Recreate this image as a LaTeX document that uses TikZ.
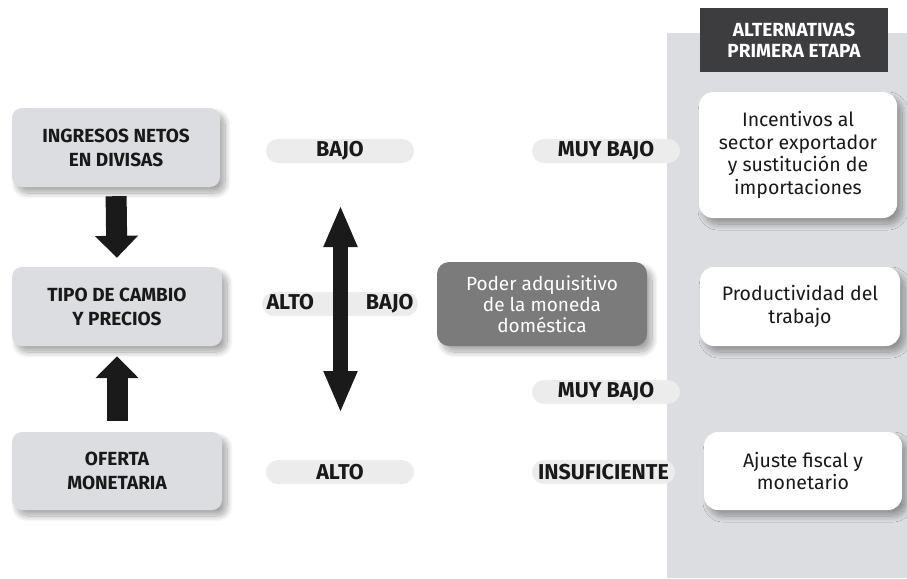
\documentclass[tikz,border=0pt]{standalone}
\usepackage{fontspec}
\setmainfont{Fira Sans}
\usetikzlibrary{arrows.meta, shadows.blur}

\definecolor{boxgray}{HTML}{DCDDE0}
\definecolor{pillgray}{HTML}{ECECEC}
\definecolor{headgray}{HTML}{3D3D3F}
\definecolor{podergray}{HTML}{7B7B7B}
\definecolor{arrowblack}{HTML}{1A1A1A}

\tikzset{
  soft/.style={blur shadow={shadow xshift=5pt, shadow yshift=-6pt, shadow blur steps=14, shadow blur radius=6pt, shadow opacity=35}},
  causa/.style={soft, fill=boxgray, rounded corners=10pt, align=center,
    font=\bfseries\fontsize{19}{24}\selectfont, text=black!90},
  nivel/.style={fill=pillgray, rounded corners=12pt, minimum height=24pt, inner sep=0pt,
    font=\bfseries\fontsize{21.5}{24}\selectfont, text=black!90},
  alterna/.style={soft, fill=white, rounded corners=14pt, align=center,
    font=\fontsize{19.5}{22.5}\selectfont, text=black!90},
  bloque/.style={arrowblack, line width=21pt, -{Triangle[width=42pt, length=22pt]}},
}

\begin{document}
\begin{tikzpicture}[x=1pt, y=-1pt]

\useasboundingbox (0,0) rectangle (907,578);

% panel de alternativas
\fill[boxgray] (667,33) rectangle (907,578);
\node[fill=headgray, text=white, minimum width=188pt, minimum height=64pt, align=center,
  font=\bfseries\fontsize{19}{21}\selectfont] (head) at (794,40) {ALTERNATIVAS\\PRIMERA ETAPA};

%% columna izquierda
\node[causa, minimum width=208pt, minimum height=79pt] (ing) at (116,147.5) {INGRESOS NETOS\\EN DIVISAS};
\node[causa, minimum width=210pt, minimum height=79pt] (tipo) at (117,306.5) {TIPO DE CAMBIO\\Y PRECIOS};
\node[causa, minimum width=210pt, minimum height=78pt] (ofe) at (117,471) {OFERTA\\MONETARIA};

\draw[bloque, shorten <=9pt, shorten >=9pt] (ing.south) -- (tipo.north);
\draw[bloque, shorten <=11pt, shorten >=10pt] (ofe.north) -- (tipo.south);

%% niveles
\node[nivel, minimum width=148pt] (bajo) at (340,151) {BAJO};
\node[nivel, minimum width=148pt] (muy) at (606,151) {MUY BAJO};
\node[nivel, minimum width=156pt] (mid) at (340,304) {ALTO\hspace{52pt}BAJO};
\node[nivel, minimum width=148pt] (muyb) at (606,392) {MUY BAJO};
\node[nivel, minimum width=148pt] (alto) at (340,472) {ALTO};
\node[nivel, minimum width=143pt] (insuf) at (603.5,472) {INSUFICIENTE};

\coordinate (arriba) at (340.5,205);
\coordinate (abajo) at (340.5,413);
\draw[arrowblack, line width=15pt, {Triangle[width=31pt, length=42pt]}-{Triangle[width=31pt, length=42pt]}]
  (arriba) -- (abajo);

\node[soft, fill=podergray, text=white, rounded corners=12pt, minimum width=210pt, minimum height=84pt,
  align=center, font=\fontsize{19}{21}\selectfont] (poder) at (542,304)
  {Poder adquisitivo\\de la moneda\\doméstica};

%% alternativas
\node[alterna, minimum width=198pt, minimum height=126pt] (inc) at (798,155)
  {Incentivos al\\sector exportador\\y sustitución de\\importaciones};
\node[alterna, minimum width=200pt, minimum height=79pt] (prod) at (800,306.5) {Productividad del\\trabajo};
\node[alterna, minimum width=198pt, minimum height=78pt] (aju) at (803,471) {Ajuste fiscal y\\monetario};

\end{tikzpicture}
\end{document}
